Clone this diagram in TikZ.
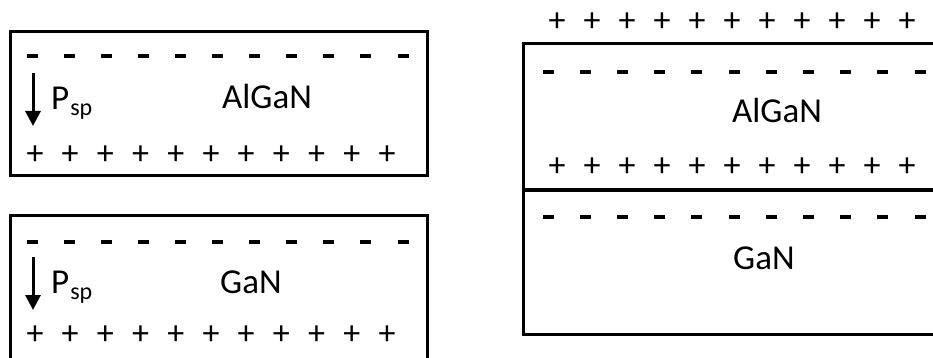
\documentclass[tikz,border=0pt]{standalone}
\usepackage{fontspec}
\setmainfont{Carlito}
\usetikzlibrary{arrows.meta}
\newcommand{\psub}{P\kern1pt\raisebox{-6pt}{\fontsize{24}{28}\selectfont sp}}
\begin{document}
\begin{tikzpicture}[x=1pt,y=-1pt,
  layer/.style={draw=black,line width=3pt},
  iface/.style={draw=black,line width=3.6pt},
  lbl/.style={anchor=base west,inner sep=0pt,font=\fontsize{35}{40}\selectfont},
  plussign/.style={inner sep=0pt,font=\fontsize{34}{38}\selectfont},
  minussign/.style={inner sep=0pt,minimum width=11pt,minimum height=3.4pt,fill=black},
  parrow/.style={line width=3pt,-{Triangle[width=15pt,length=15pt]}}]
\useasboundingbox (0,0) rectangle (933,358);
% boxes
\draw[layer] (10,32) rectangle (427,175);
\draw[layer] (10,215) rectangle (427,380);
\draw[layer] (523,44) rectangle (960,334);
\draw[iface] (523,190) -- (960,190);
% charges box 1
\foreach \i in {0,...,10} {
  \node[minussign] (m1-\i) at (32+37.1*\i,56) {};
  \node[plussign] (p1-\i) at (35+35.2*\i,155) {+};
}
% charges box 2
\foreach \i in {0,...,10} {
  \node[minussign] (m2-\i) at (32+37.1*\i,242) {};
  \node[plussign] (p2-\i) at (35+35.2*\i,335) {+};
}
% charges right stack
\foreach \i in {0,...,10} {
  \node[plussign] (p3-\i) at (557+35*\i,22) {+};
  \node[minussign] (m3-\i) at (548+37.2*\i,72) {};
  \node[plussign] (p4-\i) at (557+35*\i,167) {+};
  \node[minussign] (m4-\i) at (548+37.2*\i,217) {};
}
% labels
\node[lbl] (l1) at (222,109) {AlGaN};
\node[lbl] (l2) at (220,293) {GaN};
\node[lbl] (l3) at (732,123) {AlGaN};
\node[lbl] (l4) at (733,269) {GaN};
\node[lbl] (ps1) at (51,110) {\psub};
\node[lbl] (ps2) at (51,293) {\psub};
% polarization arrows
\coordinate (a1s) at (33,73);
\coordinate (a1e) at (33,126);
\coordinate (a2s) at (33,257);
\coordinate (a2e) at (33,310);
\draw[parrow] (a1s) -- (a1e);
\draw[parrow] (a2s) -- (a2e);
\end{tikzpicture}
\end{document}
